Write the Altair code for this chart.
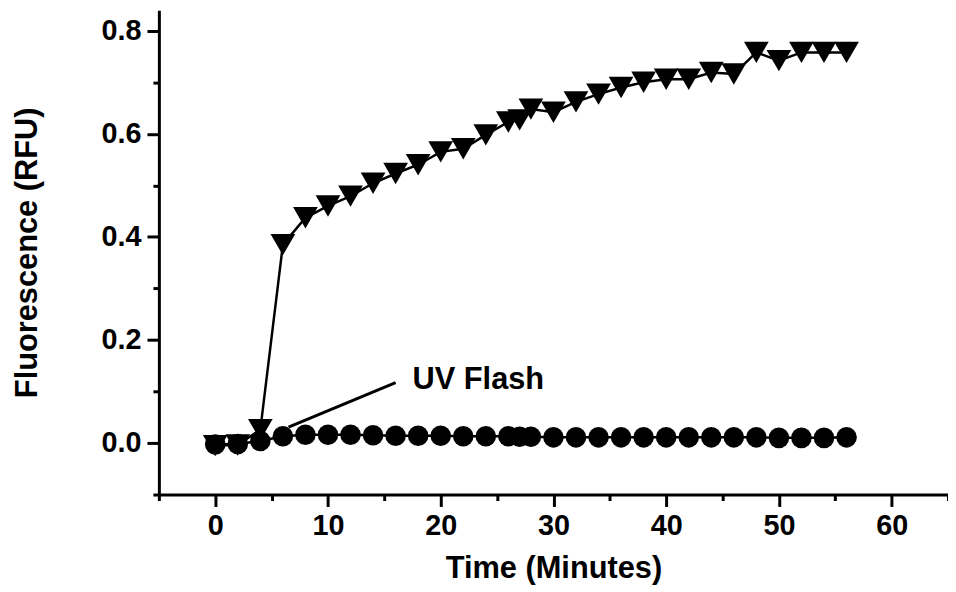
import altair as alt
import pandas as pd

# Circles (control) series
circle_time = [0, 2, 4, 6, 8, 10, 12, 14, 16, 18, 20, 22, 24, 26, 27, 28, 30, 32, 34,
               36, 38, 40, 42, 44, 46, 48, 50, 52, 54, 56]
circle_value = [-0.003, -0.002, 0.004, 0.013, 0.016, 0.016, 0.016, 0.015, 0.014, 0.014,
                0.014, 0.013, 0.013, 0.013, 0.012, 0.012, 0.011, 0.011, 0.011, 0.011,
                0.011, 0.011, 0.011, 0.011, 0.011, 0.011, 0.010, 0.010, 0.010, 0.011]

# Triangles (UV flashed) series
tri_time = [0, 2, 4, 6, 8, 10, 12, 14, 16, 18, 20, 22, 24, 26, 27, 28, 30, 32, 34,
            36, 38, 40, 42, 44, 46, 48, 50, 52, 54, 56]
tri_value = [-0.005, -0.004, 0.026, 0.385, 0.437, 0.460, 0.479, 0.504, 0.523, 0.540,
             0.565, 0.571, 0.598, 0.623, 0.627, 0.648, 0.642, 0.662, 0.677, 0.690,
             0.700, 0.706, 0.706, 0.719, 0.716, 0.758, 0.742, 0.758, 0.758, 0.758]

# Annotation
note_text = ["UV Flash"]
note_pos = [17.5, 0.123]
arrow_t = [16.0, 6.5]
arrow_v = [0.117, 0.031]

x_ticks = [-5, 0, 5, 10, 15, 20, 25, 30, 35, 40, 45, 50, 55, 60, 65]
y_ticks = [-0.1, 0.0, 0.1, 0.2, 0.3, 0.4, 0.5, 0.6, 0.7, 0.8]

FONT = "Liberation Sans"

circ_df = pd.DataFrame({"t": circle_time, "v": circle_value})
tri_df = pd.DataFrame({"t": tri_time, "v": tri_value})
note_df = pd.DataFrame({"t": [note_pos[0]], "v": [note_pos[1]], "label": note_text})
arrow_df = pd.DataFrame({"t": arrow_t, "v": arrow_v, "o": [0, 1]})

x_scale = alt.Scale(domain=[-5, 65], nice=False, zero=False)
y_scale = alt.Scale(domain=[-0.1, 0.84], nice=False, zero=False)

x_axis = alt.Axis(
    title="Time (Minutes)",
    values=x_ticks,
    labelExpr="datum.value % 10 == 0 ? datum.label : ''",
    tickSize={"condition": {"test": "datum.value % 10 == 0", "value": 12}, "value": 6},
    labelPadding=5,
    titlePadding=14,
    grid=False,
)
y_axis = alt.Axis(
    title="Fluorescence (RFU)",
    values=y_ticks,
    format=".1f",
    labelExpr="round(datum.value * 10) % 2 == 0 ? datum.label : ''",
    tickSize={"condition": {"test": "round(datum.value * 10) % 2 == 0", "value": 12}, "value": 6},
    labelPadding=6,
    titlePadding=58,
    grid=False,
)

X = alt.X("t:Q", scale=x_scale, axis=x_axis)
Y = alt.Y("v:Q", scale=y_scale, axis=y_axis)

tri_line = alt.Chart(tri_df).mark_line(color="black", strokeWidth=2.5).encode(x=X, y=Y)
tri_pts = alt.Chart(tri_df).mark_point(
    shape="triangle-down", filled=True, color="black", size=620, opacity=1
).encode(x="t:Q", y="v:Q")
circ_line = alt.Chart(circ_df).mark_line(color="black", strokeWidth=2.5).encode(x="t:Q", y="v:Q")
circ_pts = alt.Chart(circ_df).mark_point(
    shape="circle", filled=True, color="black", size=430, opacity=1
).encode(x="t:Q", y="v:Q")

arrow = alt.Chart(arrow_df).mark_line(color="black", strokeWidth=3).encode(
    x="t:Q", y="v:Q", order="o:Q"
)
note = alt.Chart(note_df).mark_text(
    align="left", baseline="middle", font=FONT, fontSize=31, fontWeight="bold", color="black"
).encode(x="t:Q", y="v:Q", text="label:N")

chart = (
    alt.layer(tri_line, tri_pts, circ_line, circ_pts, arrow, note)
    .properties(
        width=795,
        height=488,
        autosize=alt.AutoSizeParams(type="none"),
        padding={"left": 152, "top": 0, "right": 0, "bottom": 92},
        background="white",
    )
    .configure_view(stroke=None)
    .configure_axis(
        domainColor="black",
        domainWidth=3,
        tickColor="black",
        tickWidth=3,
        labelFont=FONT,
        labelFontSize=29,
        labelFontWeight="bold",
        labelColor="black",
        titleFont=FONT,
        titleFontSize=31,
        titleFontWeight="bold",
        titleColor="black",
    )
)

chart.save("out.html", embed_options={"renderer": "svg", "actions": False})
